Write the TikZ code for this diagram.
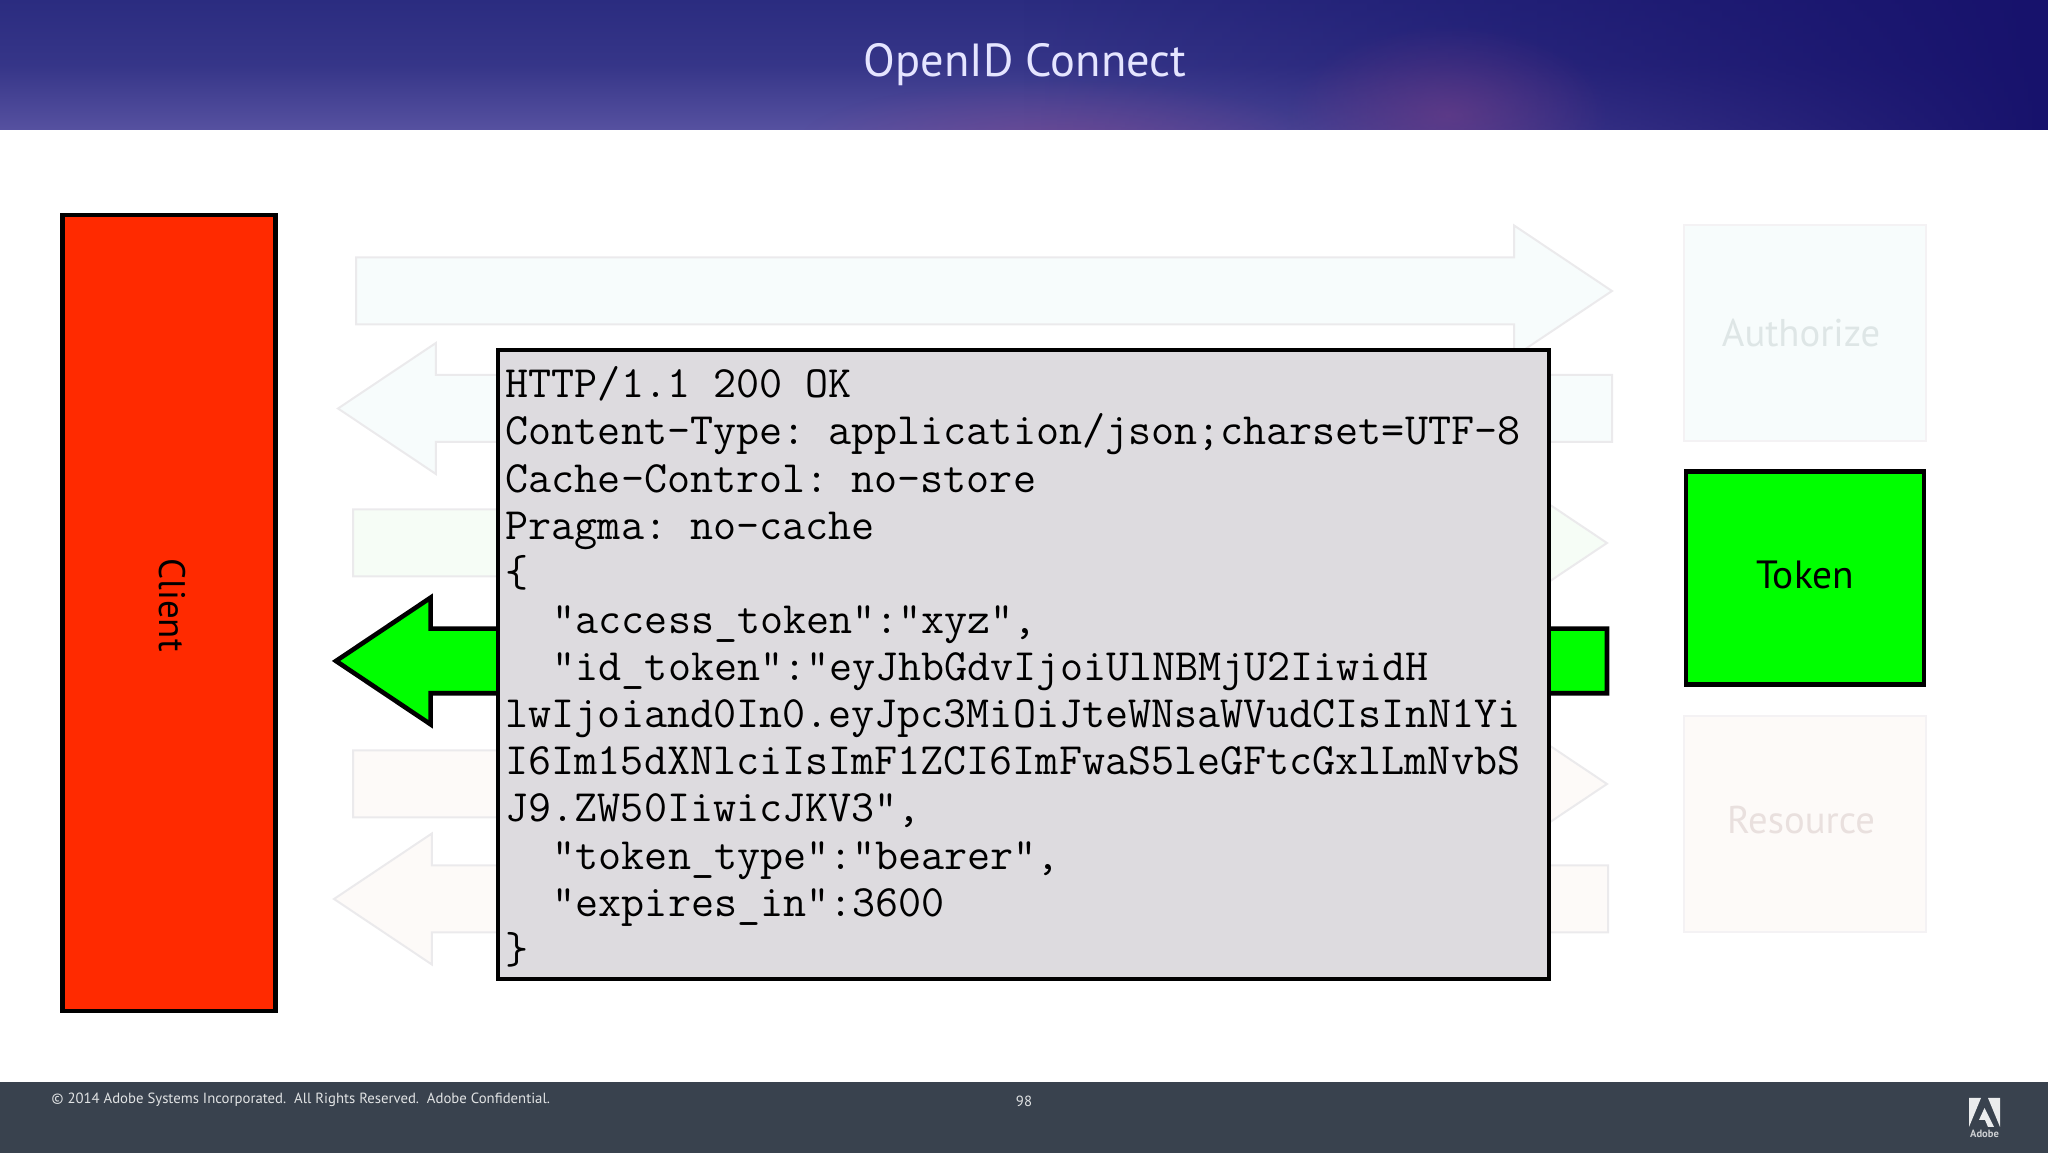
\documentclass[tikz,border=0pt]{standalone}
\usepackage{fontspec}
\setmainfont{PT Sans}
\usetikzlibrary{shapes.arrows, fadings}

\definecolor{headblue}{HTML}{2B2C80}
\definecolor{headlight}{HTML}{5651A0}
\definecolor{headdark}{HTML}{17126C}
\definecolor{headpink}{HTML}{7A4088}
\definecolor{footgrey}{HTML}{39424E}
\definecolor{clientred}{HTML}{FF2A00}
\definecolor{tokengreen}{HTML}{00FF00}
\definecolor{codegrey}{HTML}{DDDBDF}
\definecolor{palecyan}{HTML}{F7FCFC}
\definecolor{palegreen}{HTML}{F6FDF6}
\definecolor{palerose}{HTML}{FDFAF8}
\definecolor{paleedge}{HTML}{EBEAEC}
\definecolor{softedge}{HTML}{F4F2F4}
\definecolor{namecyan}{HTML}{DEE6E6}
\definecolor{namerose}{HTML}{E9E0DE}

\tikzfading[name=softglow, inner color=transparent!0, outer color=transparent!100]

\tikzset{
    solidbox/.style={draw=black, line width=.046cm, rectangle, inner sep=0pt, outer sep=0pt},
    palebox/.style={draw=softedge, line width=.02cm, rectangle, inner sep=0pt, outer sep=0pt, minimum width=2.42cm, minimum height=2.16cm},
    boxname/.style={inner sep=0pt, font=\fontsize{11}{13}\selectfont},
    footname/.style={inner sep=0pt, text=white!85!footgrey, font=\fontsize{4.2}{5}\selectfont},
    blockarrow/.style={single arrow, anchor=tip, inner xsep=0pt, inner ysep=.325cm, outer sep=0pt, minimum width=1.29cm, single arrow head extend=.32cm, single arrow tip angle=67.6},
    leftarrow/.style={blockarrow, shape border rotate=180},
    palearrow/.style={draw=paleedge, line width=.02cm},
    solidarrow/.style={draw=black, line width=.046cm, inner ysep=.3cm, minimum width=1.22cm, single arrow head extend=.31cm}
}

\begin{document}
\begin{tikzpicture}[x=1cm, y=-1cm]
            \useasboundingbox (0, 0) rectangle (20.48, 11.53);

            % header and footer
            \fill[bottom color=headlight, top color=headblue, middle color=headblue!75!headlight] (0, 0) rectangle (20.48, 1.3);
            \fill[headdark, path fading=west] (10.24, 0) rectangle (20.48, 1.3);
            \begin{scope}
                \clip (0, 0) rectangle (20.48, 1.3);
                \fill[headpink, path fading=softglow, opacity=.55] (14.48, 1.15) ellipse (1.6 and .9);
                \fill[headpink, path fading=softglow, opacity=.5] (10.6, 1.4) ellipse (2.6 and .6);
            \end{scope}
            \fill[footgrey] (0, 10.82) rectangle (20.48, 11.53);
            \node[text=white!90!blue, font=\fontsize{13.2}{15}\selectfont] (title) at (10.25, .65) {OpenID Connect};
            \node[footname, anchor=west] (legal) at (.51, 11) {© 2014 Adobe Systems Incorporated.\ \ All Rights Reserved.\ \ Adobe Confidential.};
            \node[footname] (pageno) at (10.24, 11.01) {98};

            % adobe mark
            \fill[white!90!footgrey] (19.69, 10.98) -- (19.81, 10.98) -- (19.69, 11.27) -- cycle;
            \fill[white!90!footgrey] (19.88, 10.98) -- (20, 10.98) -- (20, 11.27) -- cycle;
            \fill[white!90!footgrey] (19.845, 11.08) -- (19.94, 11.27) -- (19.88, 11.27) -- (19.85, 11.2) -- (19.79, 11.2) -- cycle;
            \node[inner sep=0pt, text=white!75!footgrey, font=\bfseries\fontsize{3}{3}\selectfont] (adobe) at (19.845, 11.34) {Adobe};

            % arrows
            \node[blockarrow, palearrow, fill=palecyan, minimum height=12.56cm] (a1) at (16.12, 2.91) {};
            \node[leftarrow, palearrow, fill=palecyan, minimum height=12.74cm] (a2) at (3.38, 4.085) {};
            \node[blockarrow, palearrow, fill=palegreen, minimum height=12.54cm] (a3) at (16.07, 5.43) {};
            \node[leftarrow, solidarrow, fill=tokengreen, minimum height=12.71cm] (a4) at (3.36, 6.61) {};
            \node[blockarrow, palearrow, fill=palerose, minimum height=12.54cm] (a5) at (16.07, 7.84) {};
            \node[leftarrow, palearrow, fill=palerose, minimum height=12.74cm] (a6) at (3.34, 8.99) {};

            % boxes
            \node[solidbox, fill=clientred, minimum width=2.13cm, minimum height=7.96cm] (client) at (1.69, 6.13) {};
            \node[boxname, rotate=-90, font=\fontsize{10.5}{12}\selectfont] (clientname) at (1.72, 6.05) {Client};
            \node[palebox, fill=palecyan] (authorize) at (18.05, 3.33) {};
            \node[boxname, text=namecyan] (authorizename) at (18.01, 3.33) {Authorize};
            \node[solidbox, fill=tokengreen, minimum width=2.38cm, minimum height=2.13cm] (token) at (18.05, 5.78) {};
            \node[boxname, font=\fontsize{11.2}{13}\selectfont] (tokenname) at (18.05, 5.75) {Token};
            \node[palebox, fill=palerose] (resource) at (18.05, 8.24) {};
            \node[boxname, text=namerose] (resourcename) at (18.01, 8.2) {Resource};

            % response
            \node[solidbox, fill=codegrey, anchor=north west, minimum width=10.51cm, minimum height=6.29cm] (response) at (4.98, 3.5) {};
            \node[anchor=north west, align=left, inner sep=0pt, font=\ttfamily\frenchspacing\fontsize{12.74}{13.41}\selectfont] (body) at (5.05, 3.66) {HTTP/1.1 200 OK\\
                Content-Type: application/json;charset=UTF-8\\
                Cache-Control: no-store\\
                Pragma: no-cache\\
                \{\\
                \hspace*{.47cm}“access\_token”:”xyz”,\\
                \hspace*{.47cm}“id\_token”:”eyJhbGdvIjoiUlNBMjU2IiwidH\\
                lwIjoiand0In0.eyJpc3MiOiJteWNsaWVudCIsInN1Yi\\
                I6Im15dXNlciIsImF1ZCI6ImFwaS5leGFtcGxlLmNvbS\\
                J9.ZW50IiwicJKV3",\\
                \hspace*{.47cm}"token\_type":"bearer",\\
                \hspace*{.47cm}"expires\_in":3600\\
                \}};
\end{tikzpicture}
\end{document}
